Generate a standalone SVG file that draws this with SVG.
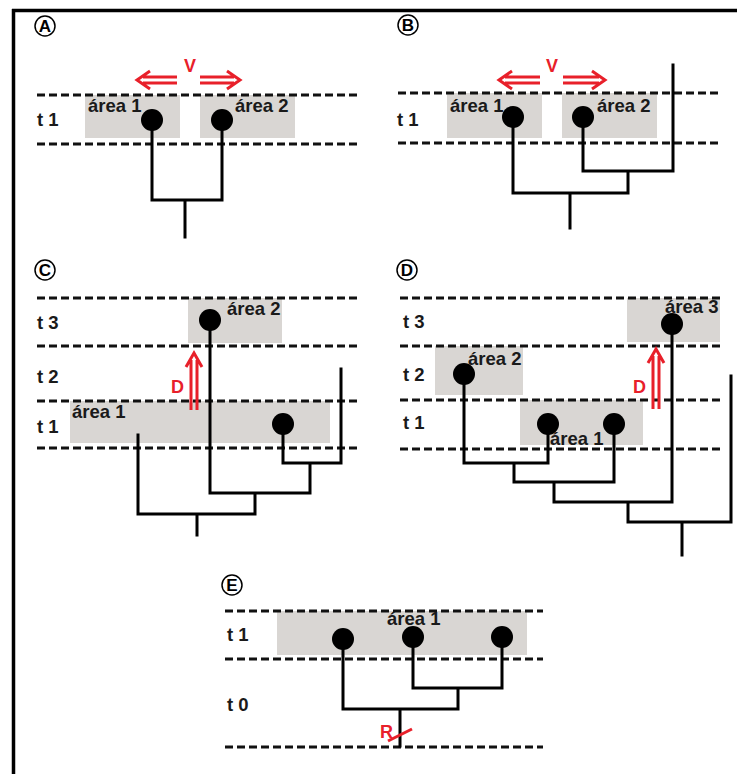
<svg xmlns="http://www.w3.org/2000/svg" width="737" height="774" viewBox="0 0 737 774">
  <style>
    .frame { stroke: #000; stroke-width: 3.5; fill: none; }
    .dash { stroke: #111; stroke-width: 3; stroke-dasharray: 8 4; fill: none; }
    .area { fill: #d9d6d3; }
    .edge { stroke: #000; stroke-width: 3; fill: none; stroke-linecap: square; }
    .node { fill: #000; }
    .lbl { font-family: "Liberation Sans", Arial, sans-serif; font-weight: bold; font-size: 18.5px; fill: #1a1a1a; }
    .time { font-family: "Liberation Sans", Arial, sans-serif; font-weight: bold; font-size: 18.5px; fill: #1a1a1a; }
    .tag { font-family: "Liberation Sans", Arial, sans-serif; font-weight: bold; font-size: 17px; fill: #000; text-anchor: middle; }
    .tagc { fill: none; stroke: #000; stroke-width: 1.5; }
    .red { font-family: "Liberation Sans", Arial, sans-serif; font-weight: bold; font-size: 18px; fill: #e8202a; }
    .arrow { stroke: #e8202a; stroke-width: 3; fill: none; }
  </style>

  <!-- outer frame: top and left rules -->
  <path class="frame" d="M12,10.5 H737 M13.5,9 V774"/>

  <!-- ===== Panel A ===== -->
  <g id="panel-a">
    <circle class="tagc" cx="45" cy="26" r="10"/>
    <text class="tag" x="45" y="32">A</text>
    <rect class="area" x="85" y="95" width="95" height="43"/>
    <rect class="area" x="200" y="95" width="95" height="43"/>
    <line class="dash" x1="37" y1="95" x2="357" y2="95"/>
    <line class="dash" x1="37" y1="144" x2="357" y2="144"/>
    <text class="time" x="37" y="126">t 1</text>
    <text class="lbl" x="88" y="112">área 1</text>
    <text class="lbl" x="235" y="112">área 2</text>
    <text class="red" x="184" y="72">V</text>
    <path class="arrow" d="M177,77 H143 M177,83 H143 M150,71 L137,80 L150,89"/>
    <path class="arrow" d="M200,77 H234 M200,83 H234 M227,71 L240,80 L227,89"/>
    <g id="a-tree">
      <path class="edge" d="M152,121 V200 H222 V121 M185,200 V237"/>
    </g>
    <g id="a-n1"><circle class="node" cx="152" cy="120" r="11"/></g>
    <g id="a-n2"><circle class="node" cx="222" cy="120" r="11"/></g>
  </g>

  <!-- ===== Panel B ===== -->
  <g id="panel-b">
    <circle class="tagc" cx="408" cy="25" r="10"/>
    <text class="tag" x="408" y="31">B</text>
    <rect class="area" x="447" y="93" width="95" height="45"/>
    <rect class="area" x="562" y="93" width="95" height="45"/>
    <line class="dash" x1="398" y1="93" x2="718" y2="93"/>
    <line class="dash" x1="398" y1="143" x2="718" y2="143"/>
    <text class="time" x="397" y="126">t 1</text>
    <text class="lbl" x="450" y="112">área 1</text>
    <text class="lbl" x="597" y="112">área 2</text>
    <text class="red" x="546" y="72">V</text>
    <path class="arrow" d="M540,77 H505 M540,83 H505 M512,71 L499,80 L512,89"/>
    <path class="arrow" d="M563,77 H599 M563,83 H599 M592,71 L605,80 L592,89"/>
    <g id="b-tree">
      <path class="edge" d="M513,118 V193 H628 V171 M583,118 V171 H673 V65 M570,193 V228"/>
    </g>
    <g id="b-n1"><circle class="node" cx="513" cy="117" r="11"/></g>
    <g id="b-n2"><circle class="node" cx="583" cy="117" r="11"/></g>
  </g>

  <!-- ===== Panel C ===== -->
  <g id="panel-c">
    <circle class="tagc" cx="45" cy="270" r="10"/>
    <text class="tag" x="45" y="276">C</text>
    <rect class="area" x="188" y="298" width="94" height="45"/>
    <rect class="area" x="70" y="401" width="260" height="42"/>
    <line class="dash" x1="37" y1="298" x2="357" y2="298"/>
    <line class="dash" x1="37" y1="346" x2="357" y2="346"/>
    <line class="dash" x1="37" y1="401" x2="357" y2="401"/>
    <line class="dash" x1="37" y1="448" x2="357" y2="448"/>
    <text class="time" x="37" y="329">t 3</text>
    <text class="time" x="37" y="383">t 2</text>
    <text class="time" x="37" y="433">t 1</text>
    <text class="lbl" x="227" y="315">área 2</text>
    <text class="lbl" x="72" y="418">área 1</text>
    <text class="red" x="171" y="393">D</text>
    <path class="arrow" d="M191,410 V360 M197,410 V360 M186,367 L194,353 L202,367"/>
    <g id="c-tree">
      <path class="edge" d="M210,321 V493 H310 V463 M283,424 V463 H341 V369 M255,493 V514 H138 V435 M197,514 V535"/>
    </g>
    <g id="c-n1"><circle class="node" cx="210" cy="320" r="11"/></g>
    <g id="c-n2"><circle class="node" cx="283" cy="424" r="11"/></g>
  </g>

  <!-- ===== Panel D ===== -->
  <g id="panel-d">
    <circle class="tagc" cx="407" cy="270" r="10"/>
    <text class="tag" x="407" y="276">D</text>
    <rect class="area" x="627" y="298" width="93" height="44"/>
    <rect class="area" x="435" y="346" width="88" height="49"/>
    <rect class="area" x="520" y="400" width="123" height="45"/>
    <line class="dash" x1="400" y1="298" x2="720" y2="298"/>
    <line class="dash" x1="400" y1="346" x2="720" y2="346"/>
    <line class="dash" x1="400" y1="400" x2="720" y2="400"/>
    <line class="dash" x1="400" y1="449" x2="720" y2="449"/>
    <text class="time" x="403" y="328">t 3</text>
    <text class="time" x="403" y="381">t 2</text>
    <text class="time" x="403" y="429">t 1</text>
    <text class="lbl" x="665" y="313">área 3</text>
    <text class="lbl" x="468" y="365">área 2</text>
    <text class="lbl" x="550" y="445">área 1</text>
    <text class="red" x="633" y="393">D</text>
    <path class="arrow" d="M653,409 V356 M659,409 V356 M648,363 L656,349 L664,363"/>
    <g id="d-tree">
      <path class="edge" d="M464,375 V463 H548 V425 M514,463 V482 H614 V425 M554,482 V502 H672 V325 M628,502 V522 H731 V376 M682,522 V555"/>
    </g>
    <g id="d-n3"><circle class="node" cx="672" cy="324" r="11"/></g>
    <g id="d-n2"><circle class="node" cx="464" cy="374" r="11"/></g>
    <g id="d-n1a"><circle class="node" cx="548" cy="424" r="11"/></g>
    <g id="d-n1b"><circle class="node" cx="614" cy="424" r="11"/></g>
  </g>

  <!-- ===== Panel E ===== -->
  <g id="panel-e">
    <circle class="tagc" cx="232" cy="585" r="10"/>
    <text class="tag" x="232" y="591">E</text>
    <rect class="area" x="277" y="611" width="250" height="44"/>
    <line class="dash" x1="225" y1="611" x2="543" y2="611"/>
    <line class="dash" x1="225" y1="659" x2="543" y2="659"/>
    <line class="dash" x1="225" y1="747" x2="543" y2="747"/>
    <text class="time" x="227" y="641">t 1</text>
    <text class="time" x="227" y="711">t 0</text>
    <text class="lbl" x="387" y="625">área 1</text>
    <g id="e-tree">
      <path class="edge" d="M343,640 V709 H458 V688 M413,638 V688 H502 V638 M400,709 V746"/>
    </g>
    <g id="e-n1"><circle class="node" cx="343" cy="639" r="11"/></g>
    <g id="e-n2"><circle class="node" cx="413" cy="637" r="11"/></g>
    <g id="e-n3"><circle class="node" cx="502" cy="637" r="11"/></g>
    <text class="red" x="380" y="738">R</text>
    <line x1="388" y1="741" x2="412" y2="729" stroke="#e8202a" stroke-width="3"/>
  </g>
</svg>
